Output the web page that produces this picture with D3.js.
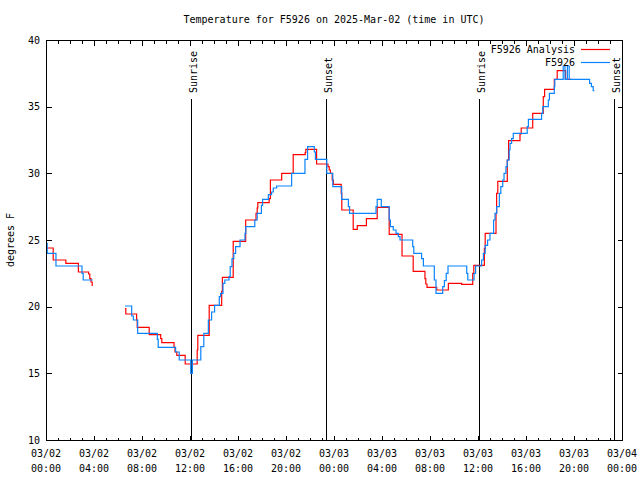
<!DOCTYPE html>
<html>
<head>
<meta charset="utf-8">
<script src="https://cdn.jsdelivr.net/npm/d3@7"></script>
<style>
  html, body { margin: 0; padding: 0; background: #fff; }
  svg { display: block; }
  text { font-family: "DejaVu Sans Mono", "Liberation Mono", monospace; font-size: 10px; fill: #000; }
</style>
</head>
<body>
<svg id="chart" width="640" height="480"></svg>
<script>
// ---- data (hours since 2025-03-02 00:00 UTC) ----
const chartTitle = "Temperature for F5926 on 2025-Mar-02 (time in UTC)";
const yLabel = "degrees F";
const seriesNames = ["F5926 Analysis", "F5926"];

const analysisHours = [0.05,0.6,1.65,2.7,3.55,3.65,3.75,3.85,3.9,4.5,
  6.58,6.65,7.55,7.6,8.6,9.56,9.65,10.67,10.75,10.9,11.6,12.6,12.65,13.6,14.64,14.7,15.6,16.64,
  17.5,17.6,17.65,18.6,18.7,19.64,20.6,21.6,21.65,22.55,23.5,23.6,23.7,23.85,23.95,24.6,24.65,
  25.6,25.94,26.7,27.6,28.6,29.67,30.6,31.58,31.65,31.75,32.56,33.53,34.64,35.56,35.65,36.53,36.6,
  37.5,37.55,37.65,38.44,38.55,39.5,39.6,40.56,41.44,41.55,42.36,42.6,43.3,43.8];
const analysisTemps = [24.4,23.5,23.25,22.6,22.45,22.1,21.85,21.6,21.6,null,
  19.85,19.45,19.0,18.45,17.9,17.6,17.3,16.95,16.6,16.35,15.7,16.75,17.85,20.1,21.15,22.2,24.9,26.5,
  27.0,27.4,27.8,28.1,29.5,30.0,31.4,31.55,31.8,30.7,30.5,30.25,30.0,29.5,29.17,28.5,27.25,
  25.8,26.08,26.6,27.45,25.42,23.8,22.65,22.1,21.7,21.45,21.25,21.75,21.67,22.5,23.1,24.35,25.5,
  27.0,28.5,29.4,31.0,32.45,32.95,33.4,34.5,35.75,36.3,37.05,37.7,37.05,37.05];

const obsHours = [0.05,0.1,0.83,3.0,3.1,3.9,4.5,
  6.58,7.14,7.28,7.64,9.28,9.35,10.8,11.1,12.06,12.2,12.9,13.15,13.53,13.8,14.05,14.44,14.55,14.75,14.9,
  15.25,15.35,15.5,15.65,15.8,16.17,16.58,16.65,17.4,17.6,17.95,18.05,18.53,18.8,18.94,19.22,20.47,
  21.58,21.8,22.36,22.45,23.4,23.9,24.64,25.2,25.3,27.5,27.6,27.94,28.6,28.7,28.94,29.17,29.36,29.5,
  30.56,30.65,31.3,31.45,32.36,32.5,33.06,33.2,33.35,33.5,35.06,35.15,35.67,35.8,36.3,36.45,36.6,36.8,
  37.0,37.3,37.42,37.56,37.78,37.9,38.06,38.17,38.33,38.44,38.6,38.67,38.8,38.94,40.1,40.2,41.3,41.4,
  41.86,41.95,42.36,42.4,43.1,43.25,43.45,43.6,45.3,45.45,45.6,45.7];
const obsTemps = [24.75,24.0,23.05,22.5,22.0,22.0,null,
  20.05,19.3,19.0,18.0,17.55,16.95,16.6,16.0,15.0,16.0,17.0,18.0,19.0,19.6,20.1,20.75,21.0,21.75,22.0,
  22.25,23.0,23.6,24.0,24.5,25.0,25.5,26.0,26.5,27.0,27.6,28.05,28.4,28.6,28.9,29.05,30.0,
  31.05,32.0,31.6,31.05,30.0,29.0,28.05,27.5,27.0,27.5,28.05,27.5,26.5,26.0,25.75,25.5,25.25,25.0,
  24.5,24.0,23.6,23.05,22.0,21.0,21.5,21.95,22.5,23.05,22.5,22.0,22.5,23.05,23.5,24.0,24.6,25.0,
  25.5,26.5,27.0,27.5,28.5,29.0,29.5,30.0,30.5,31.0,31.75,32.25,32.6,33.0,33.5,34.05,34.5,35.0,
  35.5,36.0,36.5,37.05,38.05,37.05,38.05,37.05,36.75,36.5,36.2,36.2];

const sunHours = [12.1, 23.3, 36.08, 47.33];
const sunLabels = ["Sunrise", "Sunset", "Sunrise", "Sunset"];

const xTickHours = [0,4,8,12,16,20,24,28,32,36,40,44,48];
const xTickDates = ["03/02","03/02","03/02","03/02","03/02","03/02","03/03","03/03","03/03","03/03","03/03","03/03","03/04"];
const xTickTimes = ["00:00","04:00","08:00","12:00","16:00","20:00","00:00","04:00","08:00","12:00","16:00","20:00","00:00"];
const yTicks = [10,15,20,25,30,35,40];

// ---- layout ----
const W = 640, H = 480;
const L = 46, R = 622, T = 40, B = 440;
const svg = d3.select("#chart");

const x = d3.scaleLinear().domain([0, 48]).range([L, R]);
const y = d3.scaleLinear().domain([10, 40]).range([B, T]);

const minorHours = d3.range(0, 49, 1);

const g = svg.append("g").attr("shape-rendering", "crispEdges");

// ticks via d3 axes
const tickStyle = sel => { sel.select(".domain").remove(); sel.selectAll("line").attr("stroke", "#000"); };
g.append("g").attr("transform", `translate(0,${B + 0.5})`)
  .call(d3.axisBottom(x).tickValues(minorHours).tickSize(-3).tickFormat("")).call(tickStyle);
g.append("g").attr("transform", `translate(0,${B + 0.5})`)
  .call(d3.axisBottom(x).tickValues(xTickHours).tickSize(-5).tickFormat("")).call(tickStyle);
g.append("g").attr("transform", `translate(0,${T + 0.5})`)
  .call(d3.axisTop(x).tickValues(minorHours).tickSize(-3).tickFormat("")).call(tickStyle);
g.append("g").attr("transform", `translate(0,${T + 0.5})`)
  .call(d3.axisTop(x).tickValues(xTickHours).tickSize(-5).tickFormat("")).call(tickStyle);
g.append("g").attr("transform", `translate(${L + 0.5},0)`)
  .call(d3.axisLeft(y).tickValues(yTicks).tickSize(-5).tickFormat("")).call(tickStyle);
g.append("g").attr("transform", `translate(${R + 0.5},0)`)
  .call(d3.axisRight(y).tickValues(yTicks).tickSize(-5).tickFormat("")).call(tickStyle);

// y tick labels
svg.append("g").selectAll("text").data(yTicks).join("text")
  .attr("x", L - 6).attr("y", d => y(d)).attr("dy", "0.35em")
  .attr("text-anchor", "end").text(d => d);

// x tick labels (two lines)
const xl = svg.append("g").selectAll("g").data(xTickHours).join("g")
  .attr("transform", d => `translate(${x(d)},0)`);
xl.append("text").attr("y", 453).attr("dy", "0.35em").attr("text-anchor", "middle")
  .text((d, i) => xTickDates[i]);
xl.append("text").attr("y", 468).attr("dy", "0.35em").attr("text-anchor", "middle")
  .text((d, i) => xTickTimes[i]);

// title and y label
svg.append("text").attr("x", (L + R) / 2).attr("y", 19).attr("dy", "0.35em")
  .attr("text-anchor", "middle").text(chartTitle);
svg.append("text").attr("transform", `translate(10,${(T + B) / 2}) rotate(-90)`)
  .attr("dy", "0.35em").attr("text-anchor", "middle").text(yLabel);

// sunrise / sunset
const sun = svg.append("g");
sun.selectAll("line").data(sunHours).join("line")
  .attr("x1", d => Math.round(x(d)) + 0.5).attr("x2", d => Math.round(x(d)) + 0.5)
  .attr("y1", 99).attr("y2", B)
  .attr("stroke", "#000").attr("stroke-width", 1).attr("shape-rendering", "crispEdges");
sun.selectAll("text").data(sunHours).join("text")
  .attr("transform", d => `translate(${Math.round(x(d)) + 2.5},93) rotate(-90)`)
  .attr("dy", "0.35em").attr("text-anchor", "start")
  .text((d, i) => sunLabels[i]);

// series
const analysis = analysisHours.map((h, i) => ({ h, v: analysisTemps[i] }));
const obs = obsHours.map((h, i) => ({ h, v: obsTemps[i] }));
const line = d3.line()
  .defined(d => d.v !== null)
  .x(d => x(d.h)).y(d => y(d.v))
  .curve(d3.curveStepAfter);

svg.append("path").datum(analysis).attr("d", line)
  .attr("fill", "none").attr("stroke", "#ff0000").attr("stroke-width", 1.2);
svg.append("path").datum(obs).attr("d", line)
  .attr("fill", "none").attr("stroke", "#0a84ff").attr("stroke-width", 1.2);

// legend
const legendColors = ["#ff0000", "#0a84ff"];
const lg = svg.append("g").selectAll("g").data(seriesNames).join("g")
  .attr("transform", (d, i) => `translate(0,${49 + i * 13})`);
lg.append("text").attr("x", 575).attr("dy", "0.35em").attr("text-anchor", "end").text(d => d);
lg.append("line").attr("x1", 581).attr("x2", 610).attr("y1", 0.5).attr("y2", 0.5)
  .attr("stroke", (d, i) => legendColors[i]).attr("stroke-width", 1.2);

// frame
svg.append("rect").attr("x", L + 0.5).attr("y", T + 0.5).attr("width", R - L).attr("height", B - T)
  .attr("fill", "none").attr("stroke", "#000").attr("stroke-width", 1).attr("shape-rendering", "crispEdges");
</script>
</body>
</html>
